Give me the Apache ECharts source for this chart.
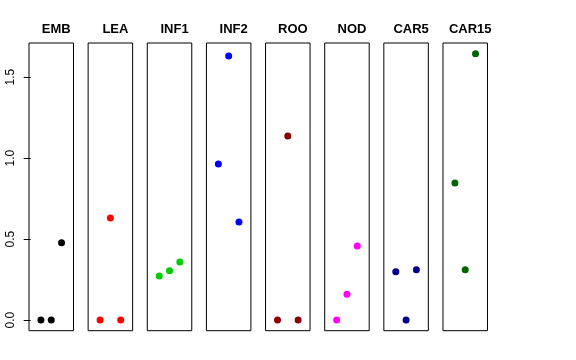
<!DOCTYPE html>
<html><head><meta charset="utf-8">
<script src="https://cdn.jsdelivr.net/npm/echarts@6/dist/echarts.min.js"></script>
<style>html,body{margin:0;padding:0;background:#fff}#c{width:576px;height:360px}</style>
</head><body><div id="c"></div>
<script>
const categories = ["EMB","LEA","INF1","INF2","ROO","NOD","CAR5","CAR15"];
const colors = ["#000000","#FF0000","#00CD00","#0000FF","#8B0000","#FF00FF","#00008B","#006400"];
const xPositions = [1, 2, 3];
const valEMB = [0, 0, 0.477];
const valLEA = [0, 0.63, 0];
const valINF1 = [0.272, 0.304, 0.358];
const valINF2 = [0.963, 1.63, 0.605];
const valROO = [0, 1.136, 0];
const valNOD = [0, 0.159, 0.457];
const valCAR5 = [0.298, 0, 0.31];
const valCAR15 = [0.846, 0.31, 1.644];
const yTicks = [0, 0.5, 1.0, 1.5];
const allVals = [valEMB,valLEA,valINF1,valINF2,valROO,valNOD,valCAR5,valCAR15];

(function () {
const font = '"Liberation Sans", Arial, Helvetica, sans-serif';
const left0 = 29, step = 59.14, w = 44.5, gTop = 43, h = 287.7;
const grids = [], xAxes = [], yAxes = [], series = [], titles = [];
categories.forEach((c, i) => {
  const l = left0 + step * i;
  grids.push({left: l, top: gTop, width: w, height: h, show: true, borderColor: '#000', borderWidth: 1, containLabel: false});
  xAxes.push({type: 'value', gridIndex: i, min: -0.16, max: 4.16, show: false});
  yAxes.push({type: 'value', gridIndex: i, min: -0.0658, max: 1.7108, interval: 0.5,
    show: i === 0,
    axisLine: {show: false},
    axisTick: {show: i === 0, length: 7, lineStyle: {color: '#000'}, customValues: yTicks},
    axisLabel: {show: i === 0, rotate: 90, margin: 12, fontFamily: font, fontSize: 12, color: '#000',
      customValues: yTicks, formatter: v => v.toFixed(1)},
    splitLine: {show: false}});
  series.push({type: 'scatter', xAxisIndex: i, yAxisIndex: i, symbol: 'circle', symbolSize: 7,
    itemStyle: {color: colors[i], opacity: 1}, silent: true,
    data: xPositions.map((x, k) => [x, allVals[i][k]])});
  titles.push({text: c, left: l + w / 2, top: 18, textAlign: 'center',
    textStyle: {fontFamily: font, fontWeight: 'bold', fontSize: 13, color: '#000'}});
});
const chart = echarts.init(document.getElementById('c'), null, {renderer: 'canvas'});
chart.setOption({animation: false, title: titles, grid: grids, xAxis: xAxes, yAxis: yAxes, series: series});
})();
</script></body></html>
